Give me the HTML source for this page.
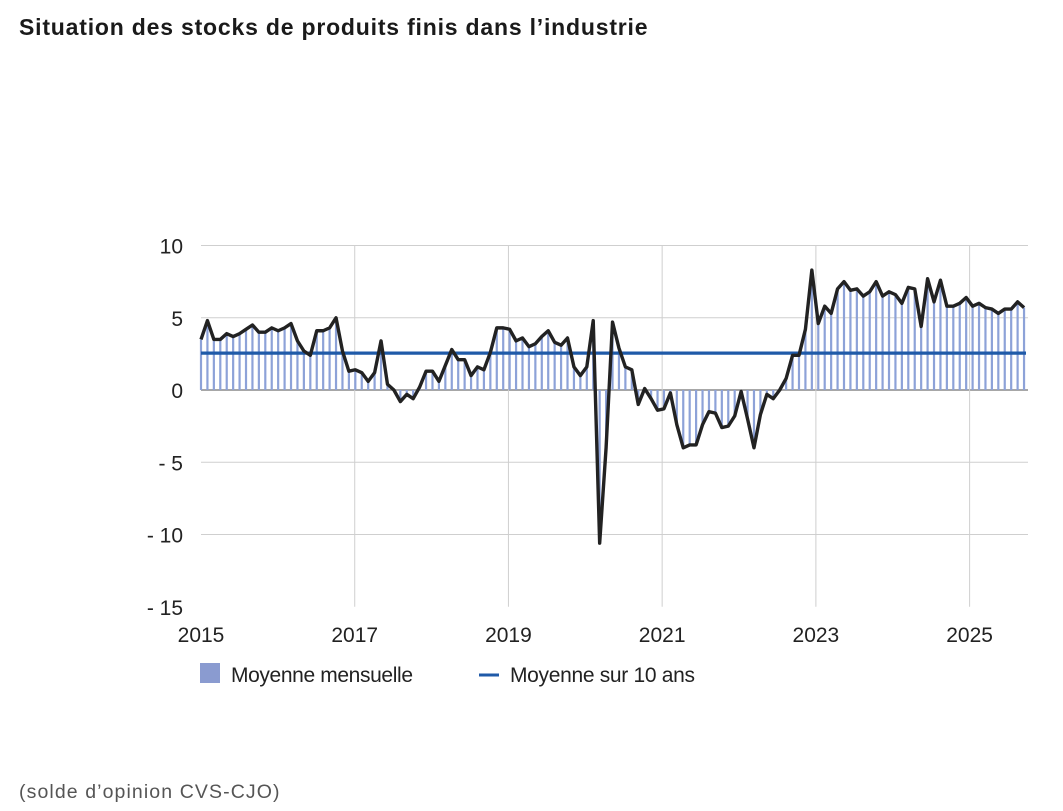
<!DOCTYPE html>
<html><head><meta charset="utf-8"><style>
body{margin:0;background:#fff;width:1063px;height:811px;overflow:hidden;font-family:"Liberation Sans",sans-serif;}
#title{position:absolute;left:19px;top:14px;font-size:23px;font-weight:bold;color:#1a1a1a;letter-spacing:0.8px;}
#foot{position:absolute;left:19px;top:781px;font-size:19.5px;color:#555;letter-spacing:1.1px;}
svg{position:absolute;left:0;top:0;}
</style></head><body>
<div id="title">Situation des stocks de produits finis dans l’industrie</div>
<svg id="chart" width="1063" height="811"></svg>
<div id="foot">(solde d’opinion CVS-CJO)</div>
<script>
const values = [
3.5,4.8,3.5,3.5,3.9,3.7,3.9,4.2,4.5,4.0,4.0,4.3,
4.1,4.3,4.6,3.4,2.7,2.4,4.1,4.1,4.3,5.0,2.7,1.3,
1.4,1.2,0.6,1.2,3.4,0.4,0.0,-0.8,-0.3,-0.6,0.2,1.3,
1.3,0.6,1.7,2.8,2.1,2.1,1.0,1.6,1.4,2.6,4.3,4.3,
4.2,3.4,3.6,3.0,3.2,3.7,4.1,3.3,3.1,3.6,1.6,1.0,
1.6,4.8,-10.6,-4.0,4.7,2.9,1.6,1.4,-1.0,0.1,-0.6,-1.4,
-1.3,-0.2,-2.4,-4.0,-3.8,-3.8,-2.4,-1.5,-1.6,-2.6,-2.5,-1.8,
-0.1,-2.0,-4.0,-1.7,-0.3,-0.6,0.0,0.8,2.4,2.4,4.2,8.3,
4.6,5.8,5.3,7.0,7.5,6.9,7.0,6.5,6.8,7.5,6.5,6.8,
6.6,6.0,7.1,7.0,4.4,7.7,6.1,7.6,5.8,5.8,6.0,6.4,
5.8,6.0,5.7,5.6,5.3,5.6,5.6,6.1,5.7];
const average = [2.55];
const yTicks = [10,5,0,-5,-10,-15];
const yTickLabels = ["10","5","0","- 5","- 10","- 15"];
const xYears = [2015,2017,2019,2021,2023,2025];

const svg = document.getElementById('chart');
const NS = 'http://www.w3.org/2000/svg';
const X0 = 201, MONTH = 6.43, YMONTH = 6.405, Y0 = 390, PPU = 14.45;
const x = i => X0 + i * MONTH;
const xYear = yr => X0 + (yr - 2015) * 12 * YMONTH;
const y = v => Y0 - v * PPU;
function mk(tag, attrs){const e=document.createElementNS(NS,tag);for(const k in attrs)e.setAttribute(k,attrs[k]);svg.appendChild(e);return e;}

yTicks.forEach((t,i)=>{
  if(t!==-15){
    const g=mk('line',{x1:X0,x2:1028,y1:y(t),y2:y(t),stroke:t===0?'#8a8a8a':'#cfcfcf','stroke-width':t===0?1.5:1});
    
    
  }
  const lb=mk('text',{x:183,y:y(t)+8,'text-anchor':'end','font-size':21,fill:'#222'});
  lb.textContent=yTickLabels[i];
  
  
});
xYears.forEach(yr=>{
  if(yr!==2015){
    const g=mk('line',{x1:xYear(yr),x2:xYear(yr),y1:y(10),y2:y(-15),stroke:'#cfcfcf','stroke-width':1});
    
    
  }
  const lb=mk('text',{x:xYear(yr),y:642,'text-anchor':'middle','font-size':21,fill:'#222'});
  lb.textContent=String(yr);
  
  
});
values.forEach((v,i)=>{
  const b=mk('line',{x1:x(i),x2:x(i),y1:y(0),y2:y(v),stroke:'#8da2d8','stroke-width':2.2});
  
  
});
const av=mk('line',{x1:X0,x2:1026,y1:y(average[0]),y2:y(average[0]),stroke:'#1f5aa8','stroke-width':3.2});


const ln=mk('polyline',{points:values.map((v,i)=>x(i)+','+y(v)).join(' '),fill:'none',stroke:'#222','stroke-width':3.4,'stroke-linejoin':'round'});


const l1=mk('rect',{x:200,y:663,width:20,height:20,fill:'#8a9bd0'});


const t1=mk('text',{x:231,y:682,'font-size':21,fill:'#222',textLength:182});
t1.textContent='Moyenne mensuelle';


const l2=mk('line',{x1:479,x2:499,y1:675,y2:675,stroke:'#1f5aa8','stroke-width':3});


const t2=mk('text',{x:510,y:682,'font-size':21,fill:'#222',textLength:185});
t2.textContent='Moyenne sur 10 ans';


</script>
</body></html>
